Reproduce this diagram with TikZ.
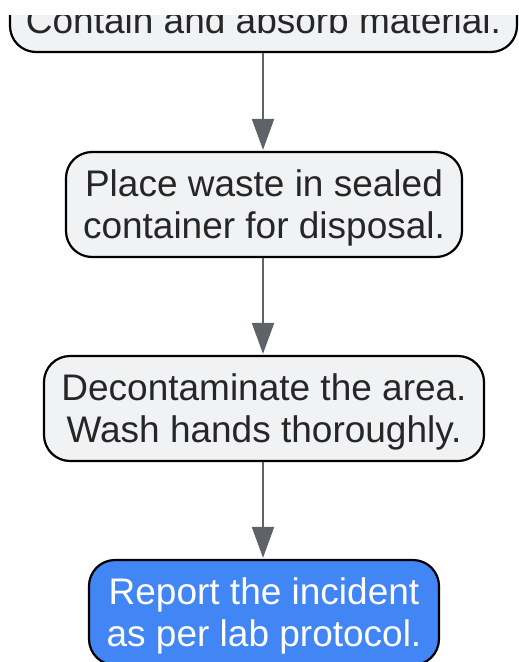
\documentclass[tikz,border=0pt]{standalone}
\usepackage{fontspec}
\setmainfont{Liberation Sans}
\usetikzlibrary{arrows.meta}
\definecolor{boxfill}{HTML}{F1F2F4}
\definecolor{bluefill}{HTML}{4285F4}
\definecolor{arrowgray}{HTML}{5F6368}
\definecolor{textdark}{HTML}{262626}
\newcommand\linestrut{\rule[-8.2pt]{0pt}{42pt}}
\tikzset{
  stepbox/.style={draw=black, line width=2.2pt, fill=boxfill, rounded corners=26pt,
    align=center, inner sep=0pt, minimum height=105pt, text=textdark,
    font=\fontsize{37}{42}\selectfont},
  endbox/.style={stepbox, fill=bluefill, text=white},
  flow/.style={draw=arrowgray, line width=2pt,
    -{Triangle[length=31pt,width=22pt,fill=arrowgray]}, shorten >=1pt}
}
\begin{document}
\begin{tikzpicture}[x=1pt,y=-1pt]
\useasboundingbox (0,0) rectangle (519,662);
\clip (0,15) rectangle (519,662);
\node[stepbox, minimum width=507pt, minimum height=63pt] (a) at (263.5,20.5) {\linestrut Contain and absorb material.};
\node[stepbox, minimum width=396pt] (b) at (264,204.5) {\linestrut Place waste in sealed\\\linestrut container for disposal.};
\node[stepbox, minimum width=440pt] (c) at (264,408.5) {\linestrut Decontaminate the area.\\\linestrut Wash hands thoroughly.};
\node[endbox, minimum width=350pt] (d) at (264,612.5) {\linestrut Report the incident\\\linestrut as per lab protocol.};
\draw[flow] (a.south -| 263,0) -- (b.north -| 263,0);
\draw[flow] (b.south -| 263,0) -- (c.north -| 263,0);
\draw[flow] (c.south -| 263,0) -- (d.north -| 263,0);
\end{tikzpicture}
\end{document}
